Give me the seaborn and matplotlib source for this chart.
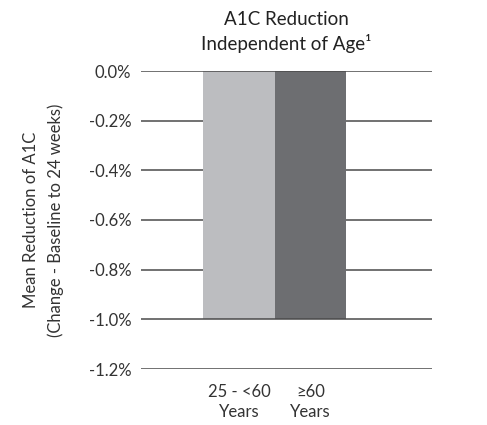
import numpy as np
import pandas as pd
import matplotlib.pyplot as plt
import seaborn as sns

groups = ["25 - <60\nYears", "\u226560\nYears"]
reduction = [-1.0, -1.0]
bar_colors = ["#bcbdc0", "#6d6e71"]
y_ticks = [0.0, -0.2, -0.4, -0.6, -0.8, -1.0, -1.2]

sns.set_style("white")
plt.rcParams['font.family'] = ['Lato', 'DejaVu Sans']

df = pd.DataFrame({"group": groups, "reduction": reduction})

fig = plt.figure(figsize=(4.87, 4.25), dpi=100)
ax = fig.add_axes([141 / 487, 1 - 369 / 425, 291 / 487, 298 / 425])

sns.barplot(data=df, x="group", y="reduction", hue="group", palette=bar_colors,
            width=1.0, legend=False, ax=ax, zorder=2, saturation=1, linewidth=0)

for v in y_ticks:
    ax.axhline(v, color="#4a4a4a", lw=1.1, zorder=1 if v not in (0.0, -1.0) else 3)

ax.set_ylim(-1.2, 0.0)
ax.set_xlim(-1.37, 2.70)
ax.set_yticks(y_ticks)
ax.set_yticklabels([f"{v:.1f}%" for v in y_ticks])
ax.tick_params(axis="y", length=0, pad=7, labelsize=12, colors="#333333")
ax.tick_params(axis="x", length=0, pad=11, labelsize=12, colors="#333333")
for lbl in ax.get_xticklabels():
    lbl.set_linespacing(1.3)
for s in ax.spines.values():
    s.set_visible(False)
ax.set_xlabel("")
ax.set_ylabel("Mean Reduction of A1C\n(Change - Baseline to 24 weeks)", fontsize=12,
              color="#333333", labelpad=18, linespacing=1.6)
ax.set_title("A1C Reduction\nIndependent of Age\u00b9", fontsize=13.5, color="#222222",
             pad=15, linespacing=1.4)

fig.savefig("out.png", dpi=100)
